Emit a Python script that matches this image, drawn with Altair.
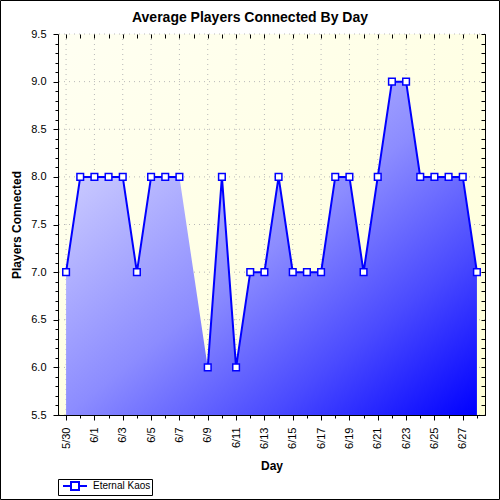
import json
import altair as alt
import pandas as pd

# ---- data ----
days = ["5/30", "5/31", "6/1", "6/2", "6/3", "6/4", "6/5", "6/6", "6/7", "6/8",
        "6/9", "6/10", "6/11", "6/12", "6/13", "6/14", "6/15", "6/16", "6/17", "6/18",
        "6/19", "6/20", "6/21", "6/22", "6/23", "6/24", "6/25", "6/26", "6/27", "6/28"]
players = [7, 8, 8, 8, 8, 7, 8, 8, 8, None,
           6, 8, 6, 7, 7, 8, 7, 7, 7, 8,
           8, 7, 8, 9, 9, 8, 8, 8, 8, 7]
series_name = "Eternal Kaos"

y_major = [5.5, 6.0, 6.5, 7.0, 7.5, 8.0, 8.5, 9.0, 9.5]
y_minor = [round(5.5 + 0.1 * i, 1) for i in range(41)]
x_ticks = list(range(len(days)))
x_major = [i for i in x_ticks if i % 2 == 0]

df = pd.DataFrame({
    "idx": x_ticks,
    "day": days,
    "players": players,
    "series": [series_name] * len(days),
})

W, H = 427, 381
FONT = "Liberation Sans"

xs = alt.Scale(domain=[-0.57, len(days) - 1 + 0.57], nice=False, zero=False)
ys = alt.Scale(domain=[5.5, 9.5], nice=False, zero=False)

major_y_test = "abs(datum.value * 2 - round(datum.value * 2)) < 0.001"
major_x_test = "datum.value % 2 == 0"

left_axis = alt.Axis(
    orient="left", values=y_minor, grid=False, zindex=1,
    labelExpr=f"{major_y_test} ? format(datum.value, '.1f') : ''",
    labelOverlap=False, labelFlush=False,
    tickSize={"condition": {"test": major_y_test, "value": 5}, "value": 3},
    labelPadding=7, labelFontSize=11, labelFont=FONT, labelColor="black",
    domainColor="black", tickColor="black",
    title="Players Connected", titleFont=FONT, titleFontSize=12,
    titleFontWeight="bold", titleColor="black", titlePadding=7,
)
bottom_axis = alt.Axis(
    orient="bottom", values=x_ticks, grid=False, zindex=1,
    labelExpr=f"{major_x_test} ? {json.dumps(days)}[datum.value] : ''",
    labelAngle=-90, labelOverlap=False, labelFlush=False,
    tickSize={"condition": {"test": major_x_test, "value": 5}, "value": 3},
    labelPadding=7, labelFontSize=11, labelFont=FONT, labelColor="black",
    domainColor="black", tickColor="black",
    title="Day", titleFont=FONT, titleFontSize=12, titleFontWeight="bold",
    titleColor="black", titlePadding=12,
)
top_axis = alt.Axis(
    orient="top", values=x_ticks, labels=False, domain=False, grid=False,
    tickSize=4, offset=-4, tickColor="black", title=None, zindex=1,
)
right_axis = alt.Axis(
    orient="right", values=y_minor, labels=False, domain=False, grid=False,
    tickSize=4, offset=-4, tickColor="black", title=None, zindex=1,
)

yellow = alt.Gradient(
    gradient="linear", x1=0, y1=0, x2=1, y2=1,
    stops=[alt.GradientStop(color="#fffff2", offset=0),
           alt.GradientStop(color="#ffffd8", offset=1)],
)
blue = alt.Gradient(
    gradient="linear", x1=0, y1=0, x2=1, y2=1,
    stops=[alt.GradientStop(color="#e4e4ff", offset=0),
           alt.GradientStop(color="#8c8cff", offset=0.5),
           alt.GradientStop(color="#4a4aff", offset=0.75),
           alt.GradientStop(color="#0000ff", offset=1)],
)

one = alt.Data(values=[{}])

bg = alt.Chart(one).mark_rect(fill=yellow).encode(
    x=alt.value(0), x2=alt.value(W), y=alt.value(0), y2=alt.value(H)
)
gridv = alt.Chart(pd.DataFrame({"gx": x_major})).mark_rule(
    color="#b8b8b8", strokeDash=[1, 4], strokeWidth=1
).encode(x=alt.X("gx:Q", scale=xs, axis=None))
gridh = alt.Chart(pd.DataFrame({"gy": y_major})).mark_rule(
    color="#b8b8b8", strokeDash=[1, 4], strokeWidth=1
).encode(y=alt.Y("gy:Q", scale=ys, axis=None))

area = alt.Chart(df).transform_filter("isValid(datum.players)").mark_area(
    fill=blue, opacity=1
).encode(
    x=alt.X("idx:Q", scale=xs, axis=bottom_axis),
    y=alt.Y("players:Q", scale=ys, axis=left_axis),
    y2=alt.datum(y_major[0]),
)
line = alt.Chart(df).mark_line(strokeWidth=2).encode(
    x=alt.X("idx:Q", scale=xs, axis=top_axis),
    y=alt.Y("players:Q", scale=ys, axis=right_axis),
    color=alt.Color(
        "series:N", scale=alt.Scale(range=["#0000ff"]),
        legend=alt.Legend(
            title=None, orient="none", legendX=0, legendY=445,
            padding=1, strokeColor="black", fillColor="white",
            symbolType="M-2.4,0H-0.8M0.8,0H2.4M-0.8,-0.8H0.8V0.8H-0.8Z",
            symbolSize=100, symbolStrokeWidth=2, symbolFillColor="white",
            labelFont=FONT, labelFontSize=10, labelColor="black",
            labelOffset=12, cornerRadius=0, symbolOffset=10,
        ),
    ),
)
points = alt.Chart(df).transform_filter("isValid(datum.players)").mark_point(
    shape="square", filled=True, fill="white", stroke="#0000ff",
    strokeWidth=1.5, size=44, opacity=1
).encode(
    x=alt.X("idx:Q", scale=xs, axis=None),
    y=alt.Y("players:Q", scale=ys, axis=None),
)
border = alt.Chart(one).mark_rect(
    fillOpacity=0, stroke="black", strokeWidth=1
).encode(
    x=alt.value(-57.5), x2=alt.value(441.5), y=alt.value(-33.5), y2=alt.value(465.5)
)

chart = alt.layer(bg, gridv, gridh, area, line, points, border).resolve_axis(
    x="independent", y="independent"
).properties(
    width=W, height=H, autosize="none",
    padding={"left": 58, "top": 34, "right": 15, "bottom": 85},
    background="white",
    title=alt.TitleParams(
        "Average Players Connected By Day", font=FONT, fontSize=14,
        fontWeight="bold", color="black", anchor="middle", dx=-21.5,
        offset=-35.5, baseline="alphabetic", frame="group",
    ),
).configure_view(stroke="black", strokeWidth=1)

chart.save("out.html", embed_options={"renderer": "svg", "actions": False})
